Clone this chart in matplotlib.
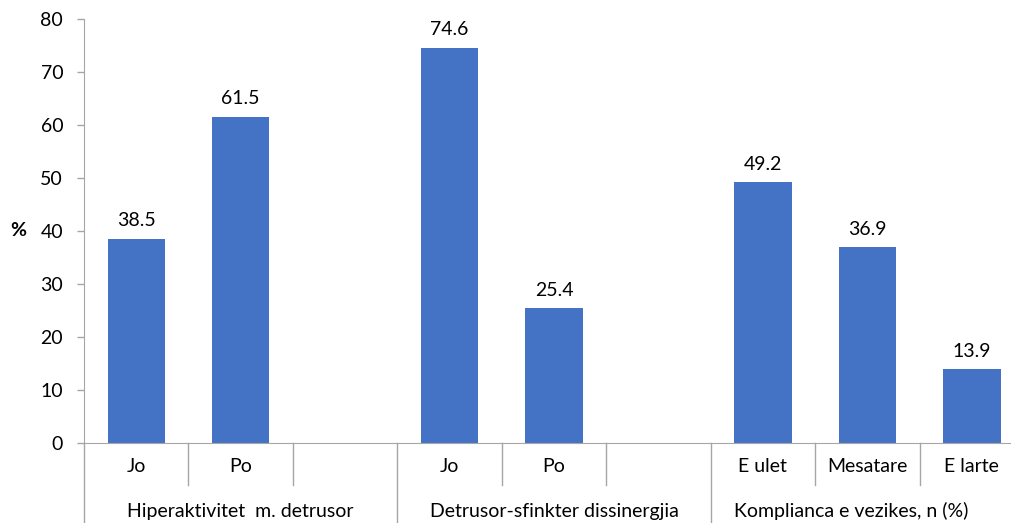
import matplotlib
matplotlib.use("Agg")
import matplotlib.pyplot as plt

plt.rcParams['font.family'] = ['Lato', 'DejaVu Sans']

# Data
groups = ["Hiperaktivitet  m. detrusor", "Detrusor-sfinkter dissinergjia", "Komplianca e vezikes, n (%)"]
categories = ["Jo", "Po", "", "Jo", "Po", "", "E ulet", "Mesatare", "E larte"]
values = [38.5, 61.5, None, 74.6, 25.4, None, 49.2, 36.9, 13.9]
y_ticks = [0, 10, 20, 30, 40, 50, 60, 70, 80]

BAR_COLOR = "#4472C4"
AXIS_COLOR = "#A6A6A6"
FS = 14

fig = plt.figure(figsize=(10.11, 5.23), dpi=100)
W, H = 1011, 523
left_px, right_px = 84, 1024
bottom_px, top_px = 443, 19
ax = fig.add_axes([left_px / W, (H - bottom_px) / H,
                   (right_px - left_px) / W, (bottom_px - top_px) / H])

xs = [i for i, v in enumerate(values) if v is not None]
vals = [v for v in values if v is not None]
ax.bar(xs, vals, width=0.55, color=BAR_COLOR, zorder=2)

for x, v in zip(xs, vals):
    ax.annotate(f"{v:.1f}", (x, v), xytext=(0, 7), textcoords="offset points",
                ha="center", va="bottom", fontsize=FS, color="black")

ax.set_xlim(-0.5, len(categories) - 0.5)
ax.set_ylim(0, 80)
ax.set_yticks(y_ticks)
ax.tick_params(axis="y", length=5, width=1, color=AXIS_COLOR, labelsize=FS,
               labelcolor="black", pad=10)
ax.set_xticks([])

for s in ["top", "right"]:
    ax.spines[s].set_visible(False)
ax.spines["left"].set_color(AXIS_COLOR)
ax.spines["bottom"].set_color(AXIS_COLOR)

ax_h = bottom_px - top_px
def yfrac(px):
    return -px / ax_h

trans = ax.get_xaxis_transform()
# slot separators
n = len(categories)
for i in range(n + 1):
    edge = i - 0.5
    if i % 3 == 0:
        y_end = yfrac(H - bottom_px + 2)
    else:
        y_end = yfrac(42)
    ax.plot([edge, edge], [0, y_end], color=AXIS_COLOR, lw=1, transform=trans,
            clip_on=False, zorder=1)

for i, c in enumerate(categories):
    if c:
        ax.text(i, yfrac(24), c, transform=trans, ha="center", va="center",
                fontsize=FS, color="black")

group_x = [1.0, 4.0, 6.85]
for gx, g in zip(group_x, groups):
    ax.text(gx, yfrac(68), g, transform=trans, ha="center", va="center",
            fontsize=FS, color="black")

# y-axis unit label at the far left
pct_x = -(84 - 18) / 104.4 - 0.5
ax.text(pct_x, 40, "%", ha="center", va="center", fontsize=FS,
        fontweight="bold", color="black", clip_on=False)

fig.savefig("out.png", dpi=100)
